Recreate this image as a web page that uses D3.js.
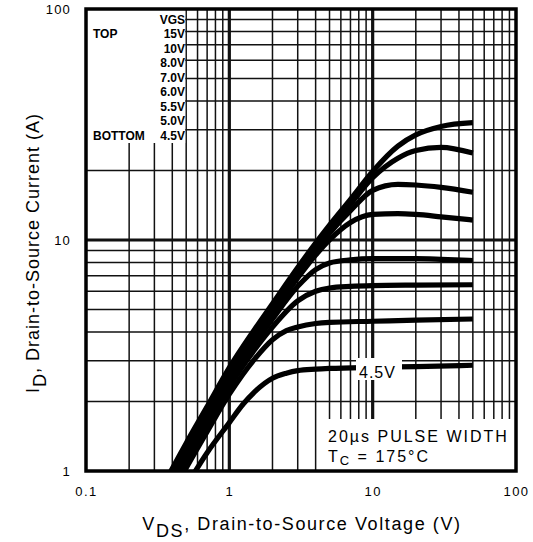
<!DOCTYPE html>
<html>
<head>
<meta charset="utf-8">
<script src="https://cdn.jsdelivr.net/npm/d3@7"></script>
<style>
  html, body { margin: 0; padding: 0; background: #fff; }
  svg { display: block; }
  text { font-family: "Liberation Sans", Arial, sans-serif; fill: #000; }
</style>
</head>
<body>
<svg id="chart" width="533" height="542"></svg>
<script>
// ---- data ----
const xTickLabels = [0.1, 1, 10, 100];
const yTickLabels = [1, 10, 100];
const legendLabels = ["15V", "10V", "8.0V", "7.0V", "6.0V", "5.5V", "5.0V", "4.5V"];

// [VDS (V), ID (A)]
const vgs15V = [[0.35,0.88],[0.5,1.32],[0.7,1.9],[1,2.8],[1.5,4.1],[2,5.3],[3,7.6],[4,9.7],[5,11.6],[7,15.0],[10,19.8],[15,25.5],[20,28.5],[30,31.0],[50,32.2]];
const vgs10V = [[0.35,0.855],[0.5,1.28],[0.7,1.84],[1,2.72],[1.5,3.98],[2,5.14],[3,7.37],[4,9.4],[5,11.2],[7,14.3],[10,18.6],[15,22.6],[20,24.4],[30,25.2],[50,23.8]];
const vgs8V  = [[0.35,0.83],[0.5,1.24],[0.7,1.79],[1,2.63],[1.5,3.85],[2,4.98],[3,7.1],[4,9.0],[5,10.7],[7,13.4],[10,16.4],[15,17.4],[20,17.3],[30,16.9],[50,16.1]];
const vgs7V  = [[0.35,0.8],[0.5,1.2],[0.7,1.73],[1,2.55],[1.5,3.73],[2,4.8],[3,6.85],[4,8.6],[5,10.0],[7,11.9],[10,12.9],[15,13.0],[20,12.9],[30,12.6],[50,12.2]];
const vgs6V  = [[0.35,0.765],[0.5,1.15],[0.7,1.65],[1,2.44],[1.5,3.55],[2,4.55],[3,6.3],[4,7.45],[5,7.95],[7,8.2],[10,8.3],[20,8.3],[30,8.25],[50,8.15]];
const vgs55V = [[0.35,0.73],[0.5,1.1],[0.7,1.58],[1,2.32],[1.5,3.35],[2,4.2],[3,5.45],[4,6.0],[5,6.2],[7,6.3],[10,6.35],[20,6.38],[50,6.4]];
const vgs5V  = [[0.35,0.69],[0.5,1.03],[0.7,1.48],[1,2.15],[1.5,3.05],[2,3.7],[2.5,4.05],[3,4.2],[4,4.35],[5,4.4],[10,4.45],[20,4.5],[50,4.55]];
const vgs45V = [[0.4,0.68],[0.5,0.86],[0.7,1.2],[1,1.62],[1.25,1.95],[1.5,2.2],[2,2.52],[2.5,2.65],[3,2.72],[4,2.76],[5,2.78],[10,2.81],[20,2.83],[50,2.87]];

const seriesList = [vgs15V, vgs10V, vgs8V, vgs7V, vgs6V, vgs55V, vgs5V, vgs45V];

// ---- layout ----
const L = 86, R = 516, T = 9, B = 471;
const svg = d3.select("#chart");
const x = d3.scaleLog().domain([0.1, 100]).range([L, R]);
const y = d3.scaleLog().domain([1, 100]).range([B, T]);

// grid
const xGrid = x.ticks().filter(v => v > 0.1 && v < 100);
const yGrid = y.ticks().filter(v => v > 1 && v < 100);
const isDecade = v => Math.abs(Math.log10(v) - Math.round(Math.log10(v))) < 1e-9;

svg.append("g").selectAll("line").data(xGrid).join("line")
  .attr("x1", d => x(d)).attr("x2", d => x(d))
  .attr("y1", T).attr("y2", B)
  .attr("stroke", "#111")
  .attr("stroke-width", d => isDecade(d) ? 3.2 : 1.5);

svg.append("g").selectAll("line").data(yGrid).join("line")
  .attr("y1", d => y(d)).attr("y2", d => y(d))
  .attr("x1", L).attr("x2", R)
  .attr("stroke", "#111")
  .attr("stroke-width", d => isDecade(d) ? 3.2 : 1.5);

// curves
svg.append("clipPath").attr("id", "plotclip")
  .append("rect").attr("x", L).attr("y", T).attr("width", R - L).attr("height", B - T);

const line = d3.line()
  .x(d => x(d[0])).y(d => y(d[1]))
  .curve(d3.curveMonotoneX);

svg.append("g").attr("clip-path", "url(#plotclip)")
  .selectAll("path").data(seriesList).join("path")
  .attr("d", line)
  .attr("fill", "none")
  .attr("stroke", "#000")
  .attr("stroke-width", 5.2)
  .attr("stroke-linejoin", "round");

// legend box
svg.append("rect").attr("x", L).attr("y", T).attr("width", x(0.5) - 1 - L).attr("height", 134).attr("fill", "#fff");
const lg = svg.append("g").style("font-weight", "bold").style("font-size", "12px");
lg.append("text").attr("x", 185).attr("y", 24).attr("text-anchor", "end").text("VGS");
lg.selectAll("text.lv").data(legendLabels).join("text").attr("class", "lv")
  .attr("x", 185).attr("y", (d, i) => 38 + i * 14.5).attr("text-anchor", "end").text(d => d);
lg.append("text").attr("x", 93).attr("y", 38).text("TOP");
lg.append("text").attr("x", 93).attr("y", 139.5).text("BOTTOM");

// annotation box bottom-right
svg.append("rect").attr("x", x(4) + 1.5).attr("y", 419).attr("width", R - x(4) - 1.5).attr("height", B - 419).attr("fill", "#fff");
const ann = svg.append("g").style("font-size", "16px").style("letter-spacing", "2px");
ann.append("text").attr("x", 328).attr("y", 442).text("20µs PULSE WIDTH");
const tc = ann.append("text").attr("x", 328).attr("y", 462);
tc.append("tspan").text("T");
tc.append("tspan").attr("dy", 3).style("font-size", "13px").text("C");
tc.append("tspan").attr("dy", -3).text(" = 175°C");

// 4.5V inline label
svg.append("rect").attr("x", 356).attr("y", 358).attr("width", 46).attr("height", 22).attr("fill", "#fff");
svg.append("text").attr("x", 359).attr("y", 377.5).style("font-size", "16px").style("letter-spacing", "1px").text("4.5V");

// frame
svg.append("rect").attr("x", L).attr("y", T).attr("width", R - L).attr("height", B - T)
  .attr("fill", "none").attr("stroke", "#000").attr("stroke-width", 3.5);

// axes
const xAxis = svg.append("g").attr("transform", `translate(0,${B})`)
  .call(d3.axisBottom(x).tickValues(xTickLabels).tickSize(0).tickPadding(16).tickFormat(d => String(d)));
xAxis.select(".domain").remove();
xAxis.selectAll("text").style("font-size", "13px").style("letter-spacing", "1.5px")
  .style("font-family", "'Liberation Sans', Arial, sans-serif");

const yAxis = svg.append("g").attr("transform", `translate(${L},0)`)
  .call(d3.axisLeft(y).tickValues(yTickLabels).tickSize(0).tickPadding(15).tickFormat(d => String(d)));
yAxis.select(".domain").remove();
yAxis.selectAll("text").style("font-size", "13px").style("letter-spacing", "1.2px")
  .style("font-family", "'Liberation Sans', Arial, sans-serif");

// axis titles
const xt = svg.append("text").attr("x", 302).attr("y", 530).attr("text-anchor", "middle")
  .style("font-size", "18px").style("letter-spacing", "1.6px");
xt.append("tspan").text("V");
xt.append("tspan").attr("dy", 7).text("DS");
xt.append("tspan").attr("dy", -7).text(", Drain-to-Source Voltage (V)");

const yt = svg.append("text").attr("transform", "translate(39,253) rotate(-90)").attr("text-anchor", "middle")
  .style("font-size", "18px").style("letter-spacing", "1px");
yt.append("tspan").text("I");
yt.append("tspan").attr("dy", 7).text("D");
yt.append("tspan").attr("dy", -7).text(", Drain-to-Source Current (A)");
</script>
</body>
</html>
